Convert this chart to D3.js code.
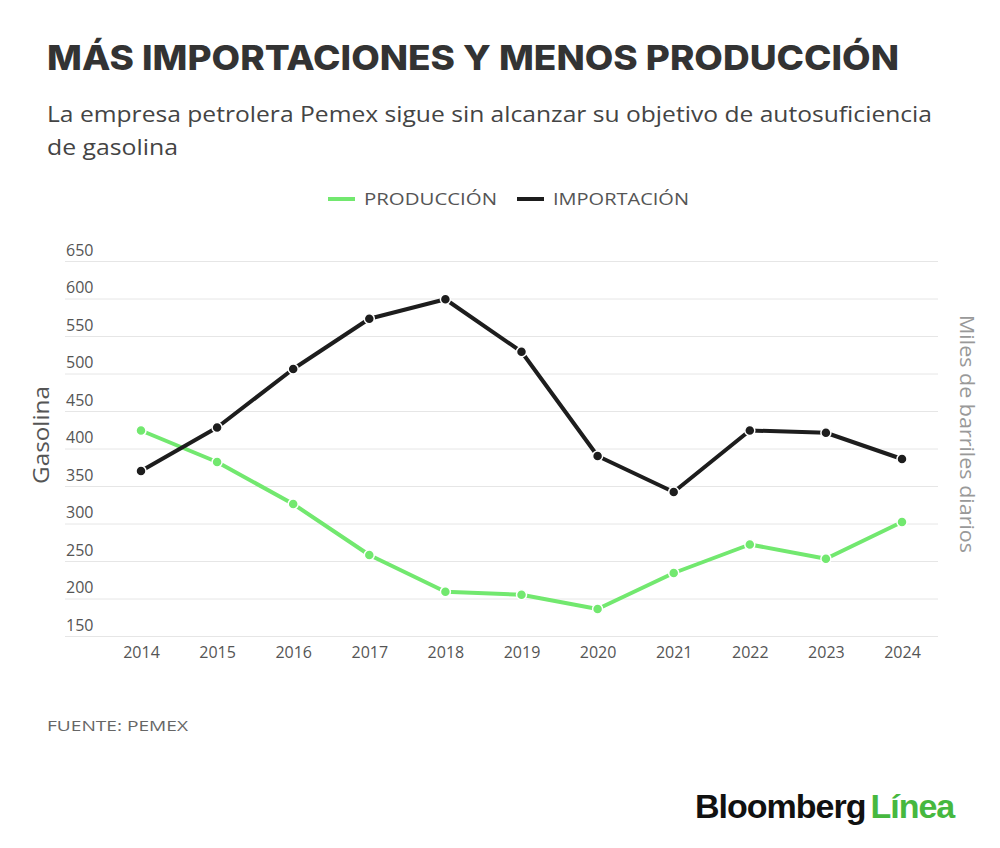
<!DOCTYPE html>
<html>
<head>
<meta charset="utf-8">
<script src="https://cdn.jsdelivr.net/npm/d3@7"></script>
<style>
  body { margin: 0; background: #fff; }
  svg { display: block; font-family: "Open Sans", sans-serif; }
</style>
</head>
<body>
<div id="chart"></div>
<script>
var years = [2014, 2015, 2016, 2017, 2018, 2019, 2020, 2021, 2022, 2023, 2024];
var produccion = [424, 382, 326, 258, 209, 205, 186, 234, 272, 253, 302];
var importacion = [370, 428, 506, 573, 599, 529, 390, 342, 424, 421, 386];
var yTicks = [150, 200, 250, 300, 350, 400, 450, 500, 550, 600, 650];

var seriesNames = ["PRODUCCIÓN", "IMPORTACIÓN"];
var seriesColors = ["#72e86f", "#1d1d1d"];

var width = 1000, height = 848;
var svg = d3.select("#chart").append("svg")
    .attr("width", width)
    .attr("height", height);

// Title / subtitle
svg.append("text")
    .attr("x", 47).attr("y", 70)
    .attr("font-family", "Inter, sans-serif")
    .attr("font-weight", 800)
    .attr("font-size", 34)
    .attr("fill", "#333")
    .attr("textLength", 852)
    .attr("lengthAdjust", "spacingAndGlyphs")
    .text("MÁS IMPORTACIONES Y MENOS PRODUCCIÓN");

var subLines = ["La empresa petrolera Pemex sigue sin alcanzar su objetivo de autosuficiencia", "de gasolina"];
var subLen = [885, 131];
subLines.forEach(function(t, i) {
    svg.append("text")
        .attr("x", 47).attr("y", 122 + i * 33)
        .attr("font-size", 21)
        .attr("fill", "#444")
        .attr("textLength", subLen[i])
        .attr("lengthAdjust", "spacingAndGlyphs")
        .text(t);
});

// Legend
var legendX = [328, 517];
var legendLen = [133, 136];
seriesNames.forEach(function(name, i) {
    var g = svg.append("g").attr("transform", "translate(" + legendX[i] + ",199)");
    g.append("line")
        .attr("x1", 0).attr("x2", 27)
        .attr("stroke", seriesColors[i])
        .attr("stroke-width", 4);
    g.append("text")
        .attr("x", 36).attr("y", 6)
        .attr("font-size", 17)
        .attr("fill", "#555")
        .attr("textLength", legendLen[i])
        .attr("lengthAdjust", "spacingAndGlyphs")
        .text(name);
});

// Scales
var x = d3.scaleLinear()
    .domain([2014, 2024])
    .range([141, 902]);
var y = d3.scaleLinear()
    .domain([150, 650])
    .range([636, 261]);

var gridLeft = 65, gridRight = 938;

// Gridlines
svg.append("g")
    .selectAll("line")
    .data(yTicks)
    .enter().append("line")
    .attr("x1", gridLeft).attr("x2", gridRight)
    .attr("y1", function(d) { return y(d) + 0.5; })
    .attr("y2", function(d) { return y(d) + 0.5; })
    .attr("stroke", "#e6e6e6")
    .attr("stroke-width", 1);

// Y axis labels
var yAxis = d3.axisLeft(y).tickValues(yTicks).tickSize(0).tickPadding(0);
var yG = svg.append("g")
    .attr("transform", "translate(" + gridLeft + ",-11)")
    .call(yAxis);
yG.select(".domain").remove();
yG.selectAll("text")
    .attr("x", 1)
    .attr("text-anchor", "start")
    .attr("font-family", "Open Sans, sans-serif")
    .attr("font-size", 16)
    .attr("fill", "#555");

// X axis labels
var xAxis = d3.axisBottom(x).tickValues(years).tickFormat(d3.format("d")).tickSize(0).tickPadding(0);
var xG = svg.append("g")
    .attr("transform", "translate(0,647)")
    .call(xAxis);
xG.select(".domain").remove();
xG.selectAll("text")
    .attr("font-family", "Open Sans, sans-serif")
    .attr("font-size", 16)
    .attr("fill", "#555");

// Axis titles
svg.append("text")
    .attr("transform", "translate(49,435) rotate(-90)")
    .attr("text-anchor", "middle")
    .attr("font-size", 21)
    .attr("fill", "#555")
    .attr("textLength", 98)
    .attr("lengthAdjust", "spacingAndGlyphs")
    .text("Gasolina");
svg.append("text")
    .attr("transform", "translate(960,434) rotate(90)")
    .attr("text-anchor", "middle")
    .attr("font-size", 20)
    .attr("fill", "#999")
    .attr("textLength", 238)
    .attr("lengthAdjust", "spacingAndGlyphs")
    .text("Miles de barriles diarios");

// Lines
var line = d3.line()
    .x(function(d, i) { return x(years[i]); })
    .y(function(d) { return y(d); });

[produccion, importacion].forEach(function(values, s) {
    svg.append("path")
        .datum(values)
        .attr("fill", "none")
        .attr("stroke", seriesColors[s])
        .attr("stroke-width", 4)
        .attr("stroke-linejoin", "round")
        .attr("d", line);
    svg.append("g")
        .selectAll("circle")
        .data(values)
        .enter().append("circle")
        .attr("cx", function(d, i) { return x(years[i]); })
        .attr("cy", function(d) { return y(d); })
        .attr("r", 5)
        .attr("fill", seriesColors[s])
        .attr("stroke", "#fff")
        .attr("stroke-width", 1.5);
});

// Source
svg.append("text")
    .attr("x", 47).attr("y", 731)
    .attr("font-size", 15)
    .attr("fill", "#666")
    .attr("textLength", 141)
    .attr("lengthAdjust", "spacingAndGlyphs")
    .text("FUENTE: PEMEX");

// Logo
var logo = svg.append("text")
    .attr("x", 695).attr("y", 818)
    .attr("font-family", "Liberation Sans, Arial, sans-serif")
    .attr("font-weight", 700)
    .attr("font-size", 34)
    .attr("letter-spacing", -1);
logo.append("tspan").attr("fill", "#111").text("Bloomberg");
logo.append("tspan").attr("fill", "#46b83f").attr("dx", 5).text("Línea");
</script>
</body>
</html>
